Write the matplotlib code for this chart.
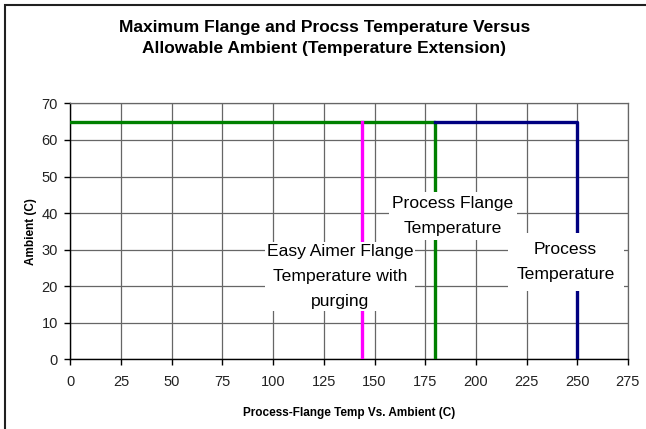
import matplotlib.pyplot as plt
from matplotlib.patches import Rectangle

# Ambient limit vs. temperature series
flange_x = [0, 180, 180]
flange_y = [65, 65, 0]
process_x = [180, 250, 250]
process_y = [65, 65, 0]
purge_x = [144, 144]
purge_y = [65, 0]

x_ticks = [0, 25, 50, 75, 100, 125, 150, 175, 200, 225, 250, 275]
y_ticks = [0, 10, 20, 30, 40, 50, 60, 70]

narrow = ['Liberation Sans Narrow', 'Liberation Sans', 'DejaVu Sans']
plt.rcParams['font.family'] = ['Liberation Sans', 'DejaVu Sans']

fig = plt.figure(figsize=(6.46, 4.29), dpi=100)
ax = fig.add_axes([0.109, 0.1625, 0.863, 0.5965])

# outer chart border (left and top only)
fig.patches.append(Rectangle((5 / 646, -0.1), 1.2, 1 - 5 / 429 + 0.1,
                             transform=fig.transFigure, fill=False,
                             edgecolor='#202020', linewidth=1.5))

ax.plot(flange_x, flange_y, color='#008000', linewidth=2.4, zorder=3)
ax.plot(process_x, process_y, color='#000080', linewidth=2.4, zorder=3)
ax.plot(purge_x, purge_y, color='#FF00FF', linewidth=2.4, zorder=3)

ax.set_xlim(0, 275)
ax.set_ylim(0, 70)
ax.set_xticks(x_ticks)
ax.set_yticks(y_ticks)
ax.grid(True, color='#666666', linewidth=0.9)
ax.set_axisbelow(True)
for side in ['top', 'right']:
    ax.spines[side].set_color('#666666')
    ax.spines[side].set_linewidth(0.9)
for side in ['left', 'bottom']:
    ax.spines[side].set_color('black')
    ax.spines[side].set_linewidth(1.0)
ax.tick_params(direction='out', length=4, width=1, color='black')
ax.tick_params(axis='x', pad=7)
ax.tick_params(axis='y', pad=5)
for lbl in ax.get_xticklabels() + ax.get_yticklabels():
    lbl.set_family(narrow)
    lbl.set_fontsize(10.5)
    lbl.set_color('#222222')

ax.set_xlabel('Process-Flange Temp Vs. Ambient (C)', fontsize=8.5,
              fontweight='bold', labelpad=13)
ax.set_ylabel('Ambient (C)', fontsize=8.5, fontweight='bold', labelpad=3)

fig.text(0.502, 0.912, 'Maximum Flange and Procss Temperature Versus\n'
         'Allowable Ambient (Temperature Extension)',
         ha='center', va='center', fontsize=12.5, fontweight='bold',
         linespacing=1.5)

# series labels sitting on white boxes
label_style = dict(ha='center', va='center', fontsize=12.6, family=narrow,
                   linespacing=1.85, zorder=5, clip_on=False)
ax.text(133, 22.6, 'Easy Aimer Flange\nTemperature with\npurging',
        bbox=dict(boxstyle='square,pad=0.1', facecolor='white',
                  edgecolor='none'), **label_style)
ax.text(188.6, 39.2, 'Process Flange\nTemperature',
        bbox=dict(boxstyle='square,pad=0.2', facecolor='white',
                  edgecolor='none'), **label_style)
ax.text(244.3, 26.6, 'Process\nTemperature',
        bbox=dict(boxstyle='square,pad=0.5', facecolor='white',
                  edgecolor='none'), **label_style)

fig.savefig('out.png', dpi=100)
